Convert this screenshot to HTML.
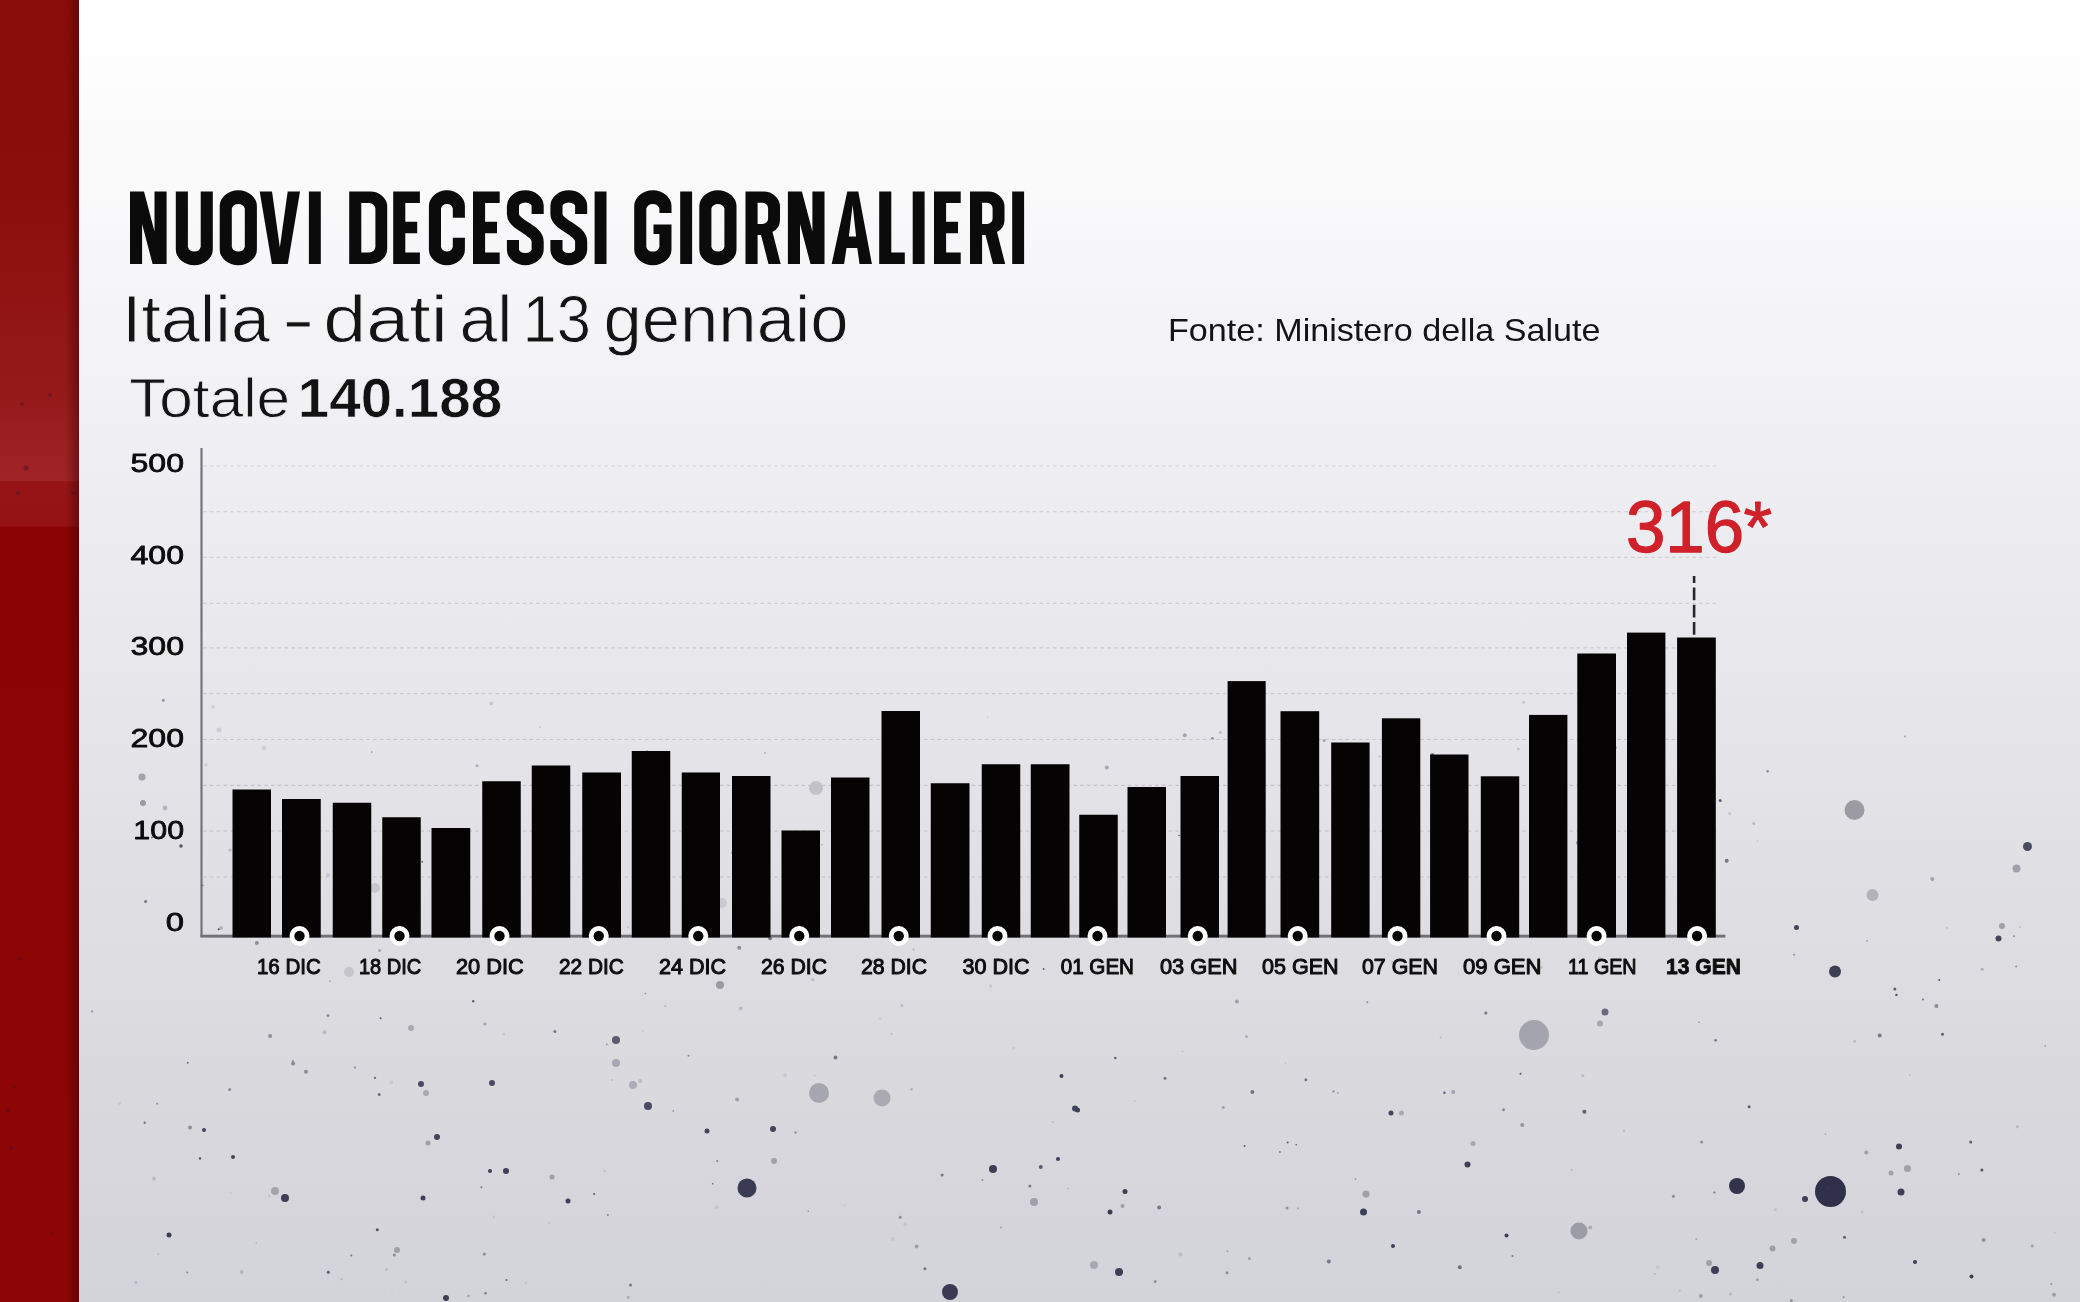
<!DOCTYPE html>
<html><head><meta charset="utf-8"><title>Nuovi decessi giornalieri</title>
<style>
html,body{margin:0;padding:0;background:#e6e6ea;}
body{width:2080px;height:1302px;overflow:hidden;font-family:"Liberation Sans",sans-serif;}
svg{display:block;position:absolute;left:0;top:0;}
text{font-family:"Liberation Sans",sans-serif;}
</style></head><body>
<svg width="2080" height="1302" viewBox="0 0 2080 1302">
<defs>
<linearGradient id="panel" x1="0" y1="0" x2="0" y2="1">
<stop offset="0" stop-color="#ffffff"/>
<stop offset="0.06" stop-color="#fdfdfd"/>
<stop offset="0.14" stop-color="#fafafb"/>
<stop offset="0.25" stop-color="#f4f4f7"/>
<stop offset="0.4" stop-color="#ededf1"/>
<stop offset="0.55" stop-color="#e6e6ea"/>
<stop offset="0.7" stop-color="#dfdfe3"/>
<stop offset="0.85" stop-color="#d8d8dd"/>
<stop offset="1" stop-color="#d3d3da"/>
</linearGradient>
<linearGradient id="strip" x1="0" y1="0" x2="0" y2="1">
<stop offset="0" stop-color="#8a0c0a"/>
<stop offset="0.15" stop-color="#8c0e0c"/>
<stop offset="0.3" stop-color="#96191a"/>
<stop offset="0.369" stop-color="#a02326"/>
<stop offset="0.37" stop-color="#961416"/>
<stop offset="0.404" stop-color="#951315"/>
<stop offset="0.405" stop-color="#8b0303"/>
<stop offset="1" stop-color="#8e0505"/>
</linearGradient>
<linearGradient id="stripsh" x1="0" y1="0" x2="1" y2="0">
<stop offset="0" stop-color="#3a0000" stop-opacity="0"/><stop offset="1" stop-color="#3a0000" stop-opacity="0.45"/>
</linearGradient>
<radialGradient id="vig" cx="0.45" cy="0.4" r="0.8">
<stop offset="0.6" stop-color="#000" stop-opacity="0"/><stop offset="1" stop-color="#000" stop-opacity="0.05"/>
</radialGradient>
<filter id="noaa" filterUnits="userSpaceOnUse" x="0" y="0" width="2080" height="1302"><feOffset dx="0" dy="0"/></filter>
</defs>
<rect x="0" y="0" width="2080" height="1302" fill="url(#panel)"/>
<rect x="0" y="0" width="79" height="1302" fill="url(#strip)"/>
<rect x="65" y="0" width="14" height="1302" fill="url(#stripsh)"/>
<g id="particles">
<circle cx="142" cy="777" r="3.6" fill="#a2a2aa"/>
<circle cx="143" cy="803" r="3" fill="#9a9aa4"/>
<circle cx="165" cy="808" r="2.4" fill="#b4b4bc"/>
<circle cx="181" cy="846" r="1.8" fill="#55556a"/>
<circle cx="213" cy="707" r="2" fill="#d0d0d6"/>
<circle cx="219" cy="730" r="2.4" fill="#cdcdd3"/>
<circle cx="264" cy="748" r="2.4" fill="#cfcfd5"/>
<circle cx="206" cy="765" r="1.8" fill="#d0d0d6"/>
<circle cx="230" cy="850" r="1.6" fill="#b8b8c0"/>
<circle cx="328" cy="875" r="2" fill="#c4c4cc"/>
<circle cx="221" cy="928" r="2" fill="#b4b4bc"/>
<circle cx="375" cy="888" r="5" fill="#c6c6cc"/>
<circle cx="816" cy="788" r="7" fill="#c2c2c8"/>
<circle cx="722" cy="903" r="5" fill="#cacad0"/>
<circle cx="349" cy="972" r="5" fill="#c4c4ca"/>
<circle cx="720" cy="985" r="4" fill="#9a9aa6"/>
<circle cx="616" cy="1040" r="4" fill="#5a5a70"/>
<circle cx="616" cy="1063" r="4" fill="#a8a8b2"/>
<circle cx="633" cy="1085" r="4" fill="#acacb4"/>
<circle cx="648" cy="1106" r="4" fill="#4a4a62"/>
<circle cx="492" cy="1083" r="3" fill="#4a4a62"/>
<circle cx="421" cy="1084" r="3" fill="#4a4a62"/>
<circle cx="426" cy="1093" r="3" fill="#a8a8b2"/>
<circle cx="411" cy="1028" r="3" fill="#a8a8b2"/>
<circle cx="819" cy="1093" r="10" fill="#a6a6b0"/>
<circle cx="882" cy="1098" r="8.5" fill="#aaaab2"/>
<circle cx="747" cy="1188" r="9.5" fill="#3a3a52"/>
<circle cx="773" cy="1129" r="3" fill="#44445a"/>
<circle cx="707" cy="1131" r="2.5" fill="#44445a"/>
<circle cx="437" cy="1137" r="3" fill="#44445a"/>
<circle cx="428" cy="1143" r="2.5" fill="#a0a0aa"/>
<circle cx="204" cy="1130" r="2" fill="#44445a"/>
<circle cx="233" cy="1157" r="2" fill="#44445a"/>
<circle cx="275" cy="1191" r="4" fill="#a4a4ae"/>
<circle cx="285" cy="1198" r="4" fill="#3e3e56"/>
<circle cx="506" cy="1171" r="3" fill="#3e3e56"/>
<circle cx="490" cy="1171" r="2" fill="#3e3e56"/>
<circle cx="552" cy="1177" r="2.5" fill="#a0a0aa"/>
<circle cx="568" cy="1201" r="2.5" fill="#3e3e56"/>
<circle cx="423" cy="1198" r="2.5" fill="#3e3e56"/>
<circle cx="169" cy="1235" r="2.5" fill="#3e3e56"/>
<circle cx="397" cy="1250" r="3" fill="#a0a0aa"/>
<circle cx="993" cy="1169" r="4" fill="#3e3e56"/>
<circle cx="950" cy="1292" r="8" fill="#3a3a52"/>
<circle cx="1034" cy="1202" r="4" fill="#a0a0aa"/>
<circle cx="774" cy="1161" r="3" fill="#a0a0aa"/>
<circle cx="446" cy="1298" r="3" fill="#3e3e56"/>
<circle cx="1854.5" cy="810" r="10" fill="#9b9ba4"/>
<circle cx="2027.5" cy="846.5" r="4.5" fill="#4a4a60"/>
<circle cx="2016.5" cy="868.5" r="4" fill="#a0a0aa"/>
<circle cx="1872.5" cy="895" r="6" fill="#b2b2b8"/>
<circle cx="2002" cy="926" r="3" fill="#a0a0aa"/>
<circle cx="1998.5" cy="938.5" r="3" fill="#44445a"/>
<circle cx="1835" cy="971.5" r="6" fill="#3e3e52"/>
<circle cx="1796.5" cy="927.5" r="2.5" fill="#44445a"/>
<circle cx="1605" cy="1012" r="3.5" fill="#6a6a7c"/>
<circle cx="1600" cy="1023.5" r="3" fill="#a8a8b0"/>
<circle cx="1534" cy="1035" r="15" fill="#a4a4ae"/>
<circle cx="1075" cy="1108.5" r="3" fill="#44445a"/>
<circle cx="1391" cy="1113" r="2.5" fill="#44445a"/>
<circle cx="1401.5" cy="1113" r="2.5" fill="#a8a8b0"/>
<circle cx="1467.5" cy="1164.5" r="3" fill="#3e3e56"/>
<circle cx="1473" cy="1143.5" r="2.5" fill="#a8a8b0"/>
<circle cx="1366" cy="1194" r="3.5" fill="#a0a0aa"/>
<circle cx="1363.5" cy="1212" r="3.5" fill="#3e3e56"/>
<circle cx="1737" cy="1186" r="8" fill="#33334a"/>
<circle cx="1830.5" cy="1191.5" r="15.5" fill="#30304a"/>
<circle cx="1579" cy="1231" r="8.5" fill="#9c9ca6"/>
<circle cx="1899" cy="1146.5" r="3" fill="#3e3e56"/>
<circle cx="1907.5" cy="1168.5" r="3.5" fill="#a0a0aa"/>
<circle cx="1901" cy="1192" r="3.5" fill="#3e3e56"/>
<circle cx="1891" cy="1173" r="2.5" fill="#a0a0aa"/>
<circle cx="1805" cy="1199" r="3" fill="#3e3e56"/>
<circle cx="1760" cy="1265.5" r="3.5" fill="#3e3e56"/>
<circle cx="1715" cy="1270" r="4" fill="#3e3e56"/>
<circle cx="1709" cy="1263" r="3" fill="#a0a0aa"/>
<circle cx="1772.5" cy="1248.5" r="3" fill="#a0a0aa"/>
<circle cx="1794" cy="1241" r="3" fill="#a0a0aa"/>
<circle cx="1094" cy="1265" r="4" fill="#a8a8b0"/>
<circle cx="1119" cy="1272" r="4" fill="#3e3e56"/>
<circle cx="1506.5" cy="1235.5" r="2" fill="#3e3e56"/>
<circle cx="1393" cy="1246" r="2" fill="#3e3e56"/>
<circle cx="1915" cy="1262" r="2" fill="#3e3e56"/>
<circle cx="1971.5" cy="1276.5" r="2" fill="#3e3e56"/>
<circle cx="1125" cy="1191.5" r="2.5" fill="#3e3e56"/>
<circle cx="1110" cy="1212" r="2.5" fill="#3e3e56"/>
<circle cx="1122.5" cy="1206" r="2" fill="#a0a0aa"/>
<circle cx="1061.5" cy="1076" r="2" fill="#3e3e56"/>
<circle cx="1077.5" cy="1110" r="2.5" fill="#3e3e56"/>
<circle cx="1058" cy="1159" r="2" fill="#3e3e56"/>
<circle cx="732.8" cy="852.8" r="1.5" fill="#50506a" opacity="0.5"/>
<circle cx="1720.2" cy="800.4" r="1.5" fill="#50506a" opacity="0.9"/>
<circle cx="516.2" cy="791.8" r="1.2" fill="#50506a" opacity="0.5"/>
<circle cx="270.1" cy="1035.9" r="2" fill="#44445c" opacity="0.5"/>
<circle cx="1970.7" cy="1142.0" r="1.5" fill="#50506a" opacity="0.9"/>
<circle cx="1252.3" cy="749.2" r="1" fill="#50506a" opacity="0.9"/>
<circle cx="1794.1" cy="954.7" r="1" fill="#44445c" opacity="0.5"/>
<circle cx="1223.3" cy="1107.6" r="1.5" fill="#6a6a7e" opacity="0.5"/>
<circle cx="1244.5" cy="1146.0" r="1" fill="#50506a" opacity="0.9"/>
<circle cx="1503.5" cy="1109.7" r="1.5" fill="#6a6a7e" opacity="0.7"/>
<circle cx="1440.6" cy="1037.6" r="1" fill="#b8b8c0" opacity="0.9"/>
<circle cx="1923.0" cy="999.6" r="1" fill="#6a6a7e" opacity="0.9"/>
<circle cx="1638.0" cy="787.5" r="1" fill="#44445c" opacity="0.7"/>
<circle cx="1827.1" cy="1187.8" r="1" fill="#44445c" opacity="0.5"/>
<circle cx="324.4" cy="1032.3" r="2" fill="#9a9aa6" opacity="0.5"/>
<circle cx="1942.5" cy="1034.3" r="1.5" fill="#50506a" opacity="0.9"/>
<circle cx="1227.5" cy="1251.2" r="1" fill="#9a9aa6" opacity="0.9"/>
<circle cx="785.1" cy="1075.0" r="2" fill="#b8b8c0" opacity="0.5"/>
<circle cx="1757.3" cy="1279.8" r="1.2" fill="#50506a" opacity="0.5"/>
<circle cx="1541.4" cy="967.6" r="1.5" fill="#b8b8c0" opacity="0.7"/>
<circle cx="1512.5" cy="1256.1" r="1" fill="#50506a" opacity="0.7"/>
<circle cx="795.6" cy="1132.5" r="1.2" fill="#50506a" opacity="0.5"/>
<circle cx="1614.9" cy="834.0" r="1" fill="#b8b8c0" opacity="0.7"/>
<circle cx="1909.9" cy="1074.9" r="1" fill="#b8b8c0" opacity="0.7"/>
<circle cx="1180.6" cy="1254.5" r="2" fill="#b8b8c0" opacity="0.9"/>
<circle cx="642.7" cy="1030.7" r="1" fill="#b8b8c0" opacity="0.5"/>
<circle cx="389.6" cy="873.6" r="1" fill="#6a6a7e" opacity="0.5"/>
<circle cx="1052.7" cy="1121.9" r="1" fill="#9a9aa6" opacity="0.5"/>
<circle cx="379.2" cy="1094.6" r="1.5" fill="#44445c" opacity="0.7"/>
<circle cx="1981.9" cy="1170.1" r="1.5" fill="#44445c" opacity="0.9"/>
<circle cx="1432.3" cy="754.9" r="2" fill="#44445c" opacity="0.7"/>
<circle cx="880.2" cy="1018.6" r="1.2" fill="#b8b8c0" opacity="0.5"/>
<circle cx="468.4" cy="1295.9" r="1.2" fill="#6a6a7e" opacity="0.5"/>
<circle cx="765.0" cy="753.1" r="0.8" fill="#44445c" opacity="0.5"/>
<circle cx="1155.2" cy="1281.5" r="1.5" fill="#50506a" opacity="0.5"/>
<circle cx="1825.5" cy="1134.1" r="1" fill="#9a9aa6" opacity="0.7"/>
<circle cx="1285.5" cy="1063.1" r="0.8" fill="#b8b8c0" opacity="0.7"/>
<circle cx="1043.6" cy="969.0" r="1" fill="#50506a" opacity="0.9"/>
<circle cx="770.1" cy="938.2" r="2" fill="#6a6a7e" opacity="0.9"/>
<circle cx="135.8" cy="1282.3" r="1.5" fill="#9a9aa6" opacity="0.5"/>
<circle cx="1459.8" cy="1267.3" r="2" fill="#44445c" opacity="0.7"/>
<circle cx="2032.3" cy="1246.1" r="1.5" fill="#9a9aa6" opacity="0.9"/>
<circle cx="817.9" cy="866.2" r="2" fill="#6a6a7e" opacity="0.9"/>
<circle cx="1165.0" cy="1078.2" r="1.5" fill="#6a6a7e" opacity="0.9"/>
<circle cx="1700.8" cy="1296.0" r="2" fill="#6a6a7e" opacity="0.5"/>
<circle cx="1714.4" cy="1192.5" r="1" fill="#6a6a7e" opacity="0.9"/>
<circle cx="1068.2" cy="1188.5" r="0.8" fill="#9a9aa6" opacity="0.7"/>
<circle cx="604.5" cy="1171.0" r="1" fill="#b8b8c0" opacity="0.9"/>
<circle cx="2051.3" cy="1284.0" r="1" fill="#50506a" opacity="0.5"/>
<circle cx="292.8" cy="1060.9" r="1" fill="#6a6a7e" opacity="0.7"/>
<circle cx="1328.8" cy="1261.6" r="2" fill="#50506a" opacity="0.7"/>
<circle cx="1894.8" cy="989.0" r="1.5" fill="#50506a" opacity="0.9"/>
<circle cx="328.0" cy="1015.4" r="1.5" fill="#6a6a7e" opacity="0.7"/>
<circle cx="1854.7" cy="1041.2" r="1.5" fill="#9a9aa6" opacity="0.5"/>
<circle cx="1679.6" cy="1290.7" r="1.2" fill="#b8b8c0" opacity="0.7"/>
<circle cx="1565.6" cy="790.8" r="1" fill="#6a6a7e" opacity="0.5"/>
<circle cx="144.7" cy="1122.8" r="1.2" fill="#6a6a7e" opacity="0.9"/>
<circle cx="1730.6" cy="1294.1" r="1.5" fill="#9a9aa6" opacity="0.5"/>
<circle cx="1179.1" cy="835.5" r="0.8" fill="#50506a" opacity="0.9"/>
<circle cx="1577.8" cy="842.8" r="2" fill="#6a6a7e" opacity="0.5"/>
<circle cx="145.6" cy="901.6" r="1.5" fill="#6a6a7e" opacity="0.9"/>
<circle cx="737.1" cy="1099.6" r="2" fill="#6a6a7e" opacity="0.5"/>
<circle cx="1896.4" cy="994.9" r="1.2" fill="#44445c" opacity="0.9"/>
<circle cx="924.9" cy="1268.8" r="1.5" fill="#6a6a7e" opacity="0.9"/>
<circle cx="391.4" cy="1082.3" r="2" fill="#b8b8c0" opacity="0.5"/>
<circle cx="1298.0" cy="1208.6" r="1" fill="#6a6a7e" opacity="0.5"/>
<circle cx="1029.9" cy="1185.9" r="1.5" fill="#50506a" opacity="0.7"/>
<circle cx="1444.4" cy="1092.7" r="1.2" fill="#50506a" opacity="0.9"/>
<circle cx="202.8" cy="885.4" r="0.8" fill="#50506a" opacity="0.9"/>
<circle cx="987.6" cy="717.3" r="0.8" fill="#b8b8c0" opacity="0.7"/>
<circle cx="1305.9" cy="1079.7" r="1.5" fill="#6a6a7e" opacity="0.9"/>
<circle cx="640.2" cy="1081.0" r="2" fill="#b8b8c0" opacity="0.9"/>
<circle cx="1958.9" cy="1174.1" r="1" fill="#44445c" opacity="0.5"/>
<circle cx="1757.4" cy="841.0" r="0.8" fill="#b8b8c0" opacity="0.7"/>
<circle cx="717.2" cy="1161.1" r="1.2" fill="#50506a" opacity="0.5"/>
<circle cx="1418.9" cy="1212.0" r="2" fill="#6a6a7e" opacity="0.9"/>
<circle cx="1367.3" cy="1002.3" r="1" fill="#6a6a7e" opacity="0.7"/>
<circle cx="525.9" cy="1283.0" r="1.2" fill="#b8b8c0" opacity="0.5"/>
<circle cx="2054.9" cy="1233.0" r="1" fill="#b8b8c0" opacity="0.9"/>
<circle cx="891.6" cy="1034.1" r="1" fill="#9a9aa6" opacity="0.5"/>
<circle cx="1523.5" cy="702.3" r="1.5" fill="#b8b8c0" opacity="0.7"/>
<circle cx="1485.8" cy="1013.0" r="1.5" fill="#44445c" opacity="0.7"/>
<circle cx="1106.8" cy="767.6" r="2" fill="#6a6a7e" opacity="0.5"/>
<circle cx="256.9" cy="943.1" r="2" fill="#6a6a7e" opacity="0.7"/>
<circle cx="1590.2" cy="1227.6" r="2" fill="#9a9aa6" opacity="0.7"/>
<circle cx="386.5" cy="1269.4" r="1.5" fill="#b8b8c0" opacity="0.9"/>
<circle cx="739.2" cy="947.8" r="2" fill="#6a6a7e" opacity="0.7"/>
<circle cx="1867.1" cy="941.0" r="0.8" fill="#50506a" opacity="0.7"/>
<circle cx="256.2" cy="1243.1" r="0.8" fill="#9a9aa6" opacity="0.5"/>
<circle cx="990.7" cy="986.0" r="1.5" fill="#b8b8c0" opacity="0.7"/>
<circle cx="1324.1" cy="740.5" r="1.5" fill="#6a6a7e" opacity="0.5"/>
<circle cx="2013.9" cy="936.3" r="1" fill="#6a6a7e" opacity="0.7"/>
<circle cx="1337.9" cy="1092.9" r="1" fill="#9a9aa6" opacity="0.7"/>
<circle cx="1082.7" cy="874.9" r="1" fill="#50506a" opacity="0.7"/>
<circle cx="163.3" cy="700.3" r="1.5" fill="#44445c" opacity="0.5"/>
<circle cx="1110.8" cy="925.2" r="1.2" fill="#50506a" opacity="0.9"/>
<circle cx="1715.6" cy="1040.2" r="1.2" fill="#44445c" opacity="0.7"/>
<circle cx="2016.1" cy="966.4" r="1" fill="#6a6a7e" opacity="0.7"/>
<circle cx="484.3" cy="1253.9" r="1.5" fill="#6a6a7e" opacity="0.7"/>
<circle cx="2054.0" cy="1294.8" r="2" fill="#6a6a7e" opacity="0.5"/>
<circle cx="230.4" cy="1193.0" r="1" fill="#b8b8c0" opacity="0.5"/>
<circle cx="200.0" cy="1158.4" r="1.2" fill="#44445c" opacity="0.9"/>
<circle cx="2017.3" cy="1126.7" r="1.5" fill="#9a9aa6" opacity="0.5"/>
<circle cx="1002.0" cy="858.4" r="1.2" fill="#50506a" opacity="0.7"/>
<circle cx="812.8" cy="979.7" r="1.5" fill="#9a9aa6" opacity="0.5"/>
<circle cx="158.4" cy="1254.1" r="1" fill="#9a9aa6" opacity="0.5"/>
<circle cx="92.1" cy="1011.4" r="1.2" fill="#9a9aa6" opacity="0.9"/>
<circle cx="1392.2" cy="926.9" r="2" fill="#50506a" opacity="0.5"/>
<circle cx="614.4" cy="795.8" r="1.2" fill="#44445c" opacity="0.5"/>
<circle cx="872.0" cy="961.2" r="1.5" fill="#6a6a7e" opacity="0.5"/>
<circle cx="1252.4" cy="1091.9" r="2" fill="#6a6a7e" opacity="0.9"/>
<circle cx="1862.2" cy="1212.1" r="1.5" fill="#b8b8c0" opacity="0.7"/>
<circle cx="1520.5" cy="1073.7" r="1" fill="#44445c" opacity="0.9"/>
<circle cx="377.3" cy="1229.8" r="1.5" fill="#44445c" opacity="0.9"/>
<circle cx="942.1" cy="1174.9" r="1.5" fill="#6a6a7e" opacity="0.9"/>
<circle cx="1584.4" cy="1111.7" r="2" fill="#50506a" opacity="0.9"/>
<circle cx="1249.4" cy="1258.5" r="1.5" fill="#6a6a7e" opacity="0.5"/>
<circle cx="151.9" cy="837.4" r="1" fill="#50506a" opacity="0.7"/>
<circle cx="1749.1" cy="1106.8" r="1.5" fill="#50506a" opacity="0.9"/>
<circle cx="1144.9" cy="924.4" r="1" fill="#50506a" opacity="0.7"/>
<circle cx="1673.4" cy="1196.3" r="1.5" fill="#44445c" opacity="0.5"/>
<circle cx="1398.7" cy="769.7" r="1.5" fill="#b8b8c0" opacity="0.7"/>
<circle cx="1696.3" cy="1238.9" r="1" fill="#6a6a7e" opacity="0.5"/>
<circle cx="1558.6" cy="1292.3" r="1.2" fill="#b8b8c0" opacity="0.5"/>
<circle cx="1040.8" cy="1167.0" r="2" fill="#50506a" opacity="0.9"/>
<circle cx="1346.1" cy="890.7" r="1.5" fill="#6a6a7e" opacity="0.7"/>
<circle cx="594.1" cy="1194.0" r="1" fill="#44445c" opacity="0.9"/>
<circle cx="354.9" cy="1067.5" r="1.2" fill="#9a9aa6" opacity="0.9"/>
<circle cx="287.5" cy="905.2" r="1.2" fill="#9a9aa6" opacity="0.9"/>
<circle cx="1115.3" cy="1058.0" r="1.2" fill="#50506a" opacity="0.9"/>
<circle cx="485.5" cy="1293.3" r="1.2" fill="#50506a" opacity="0.7"/>
<circle cx="1001.1" cy="1227.6" r="1.2" fill="#9a9aa6" opacity="0.7"/>
<circle cx="506.5" cy="1280.1" r="1" fill="#50506a" opacity="0.9"/>
<circle cx="269.3" cy="1195.9" r="1" fill="#9a9aa6" opacity="0.5"/>
<circle cx="1287.7" cy="1142.5" r="1" fill="#50506a" opacity="0.9"/>
<circle cx="814.9" cy="1075.6" r="1.2" fill="#b8b8c0" opacity="0.5"/>
<circle cx="405.7" cy="1281.9" r="1.5" fill="#b8b8c0" opacity="0.7"/>
<circle cx="689.4" cy="844.1" r="1" fill="#b8b8c0" opacity="0.7"/>
<circle cx="330.0" cy="981.2" r="1" fill="#9a9aa6" opacity="0.7"/>
<circle cx="328.3" cy="1272.3" r="1.5" fill="#50506a" opacity="0.9"/>
<circle cx="665.3" cy="1005.9" r="1.2" fill="#b8b8c0" opacity="0.9"/>
<circle cx="241.7" cy="1271.9" r="2" fill="#9a9aa6" opacity="0.5"/>
<circle cx="647.1" cy="751.8" r="1.5" fill="#9a9aa6" opacity="0.9"/>
<circle cx="1947.1" cy="927.7" r="1" fill="#b8b8c0" opacity="0.9"/>
<circle cx="716.5" cy="1207.3" r="2" fill="#b8b8c0" opacity="0.5"/>
<circle cx="1701.7" cy="1142.1" r="1.5" fill="#44445c" opacity="0.5"/>
<circle cx="1518.4" cy="749.0" r="1.5" fill="#b8b8c0" opacity="0.7"/>
<circle cx="1310.6" cy="842.2" r="2" fill="#9a9aa6" opacity="0.7"/>
<circle cx="187.2" cy="1272.5" r="1" fill="#6a6a7e" opacity="0.7"/>
<circle cx="913.5" cy="949.6" r="1" fill="#9a9aa6" opacity="0.7"/>
<circle cx="1392.2" cy="962.0" r="1.5" fill="#b8b8c0" opacity="0.5"/>
<circle cx="422.2" cy="861.8" r="1" fill="#44445c" opacity="0.7"/>
<circle cx="1182.5" cy="1051.6" r="1" fill="#b8b8c0" opacity="0.7"/>
<circle cx="367.1" cy="886.3" r="0.8" fill="#6a6a7e" opacity="0.7"/>
<circle cx="1193.4" cy="973.7" r="1" fill="#9a9aa6" opacity="0.9"/>
<circle cx="491.3" cy="703.5" r="2" fill="#b8b8c0" opacity="0.7"/>
<circle cx="911.6" cy="1089.3" r="1.2" fill="#9a9aa6" opacity="0.7"/>
<circle cx="1582.9" cy="1075.8" r="1.5" fill="#9a9aa6" opacity="0.5"/>
<circle cx="1453.2" cy="1091.9" r="2" fill="#6a6a7e" opacity="0.5"/>
<circle cx="628.0" cy="927.1" r="1.2" fill="#b8b8c0" opacity="0.7"/>
<circle cx="1983.6" cy="1239.9" r="2" fill="#50506a" opacity="0.5"/>
<circle cx="154.0" cy="1178.8" r="2" fill="#b8b8c0" opacity="0.9"/>
<circle cx="1062.3" cy="777.8" r="2" fill="#44445c" opacity="0.7"/>
<circle cx="2019.9" cy="927.1" r="0.8" fill="#6a6a7e" opacity="0.5"/>
<circle cx="391.9" cy="1290.8" r="0.8" fill="#b8b8c0" opacity="0.5"/>
<circle cx="1184.7" cy="735.3" r="2" fill="#6a6a7e" opacity="0.5"/>
<circle cx="1220.2" cy="732.5" r="1.5" fill="#9a9aa6" opacity="0.5"/>
<circle cx="1333.5" cy="1091.4" r="1.2" fill="#50506a" opacity="0.5"/>
<circle cx="229.6" cy="1089.4" r="1.5" fill="#6a6a7e" opacity="0.7"/>
<circle cx="607.9" cy="1214.9" r="0.8" fill="#50506a" opacity="0.9"/>
<circle cx="688.5" cy="1055.8" r="1" fill="#6a6a7e" opacity="0.7"/>
<circle cx="1134.7" cy="1100.9" r="0.8" fill="#b8b8c0" opacity="0.9"/>
<circle cx="1379.6" cy="756.6" r="1" fill="#b8b8c0" opacity="0.9"/>
<circle cx="1374.6" cy="786.6" r="1" fill="#b8b8c0" opacity="0.7"/>
<circle cx="540.2" cy="727.2" r="1" fill="#b8b8c0" opacity="0.7"/>
<circle cx="1444.9" cy="890.6" r="2" fill="#9a9aa6" opacity="0.9"/>
<circle cx="1767.6" cy="771.3" r="1.2" fill="#6a6a7e" opacity="0.7"/>
<circle cx="1610.2" cy="887.4" r="1.2" fill="#6a6a7e" opacity="0.7"/>
<circle cx="1599.5" cy="958.2" r="1.5" fill="#b8b8c0" opacity="0.9"/>
<circle cx="461.8" cy="909.3" r="1.2" fill="#50506a" opacity="0.9"/>
<circle cx="380.6" cy="1018.3" r="1" fill="#50506a" opacity="0.9"/>
<circle cx="371.7" cy="752.1" r="0.8" fill="#6a6a7e" opacity="0.7"/>
<circle cx="982.5" cy="1180.0" r="1" fill="#50506a" opacity="0.5"/>
<circle cx="1939.2" cy="979.9" r="1" fill="#44445c" opacity="0.9"/>
<circle cx="1018.2" cy="969.0" r="1.5" fill="#b8b8c0" opacity="0.7"/>
<circle cx="2045.2" cy="1045.9" r="0.8" fill="#50506a" opacity="0.5"/>
<circle cx="645.4" cy="993.5" r="0.8" fill="#44445c" opacity="0.5"/>
<circle cx="844.6" cy="1205.4" r="1" fill="#b8b8c0" opacity="0.5"/>
<circle cx="187.8" cy="1062.7" r="1" fill="#44445c" opacity="0.7"/>
<circle cx="473.2" cy="1001.2" r="1.2" fill="#50506a" opacity="0.9"/>
<circle cx="905.4" cy="1224.2" r="2" fill="#b8b8c0" opacity="0.5"/>
<circle cx="835.5" cy="1057.6" r="2" fill="#50506a" opacity="0.7"/>
<circle cx="477.0" cy="765.8" r="1.5" fill="#9a9aa6" opacity="0.7"/>
<circle cx="630.5" cy="1285.0" r="1.5" fill="#50506a" opacity="0.7"/>
<circle cx="1571.7" cy="1169.7" r="1" fill="#9a9aa6" opacity="0.5"/>
<circle cx="1522.3" cy="1125.1" r="2" fill="#50506a" opacity="0.5"/>
<circle cx="1729.6" cy="813.4" r="1.5" fill="#b8b8c0" opacity="0.7"/>
<circle cx="1657.8" cy="1267.0" r="2" fill="#b8b8c0" opacity="0.5"/>
<circle cx="1932.3" cy="878.9" r="2" fill="#9a9aa6" opacity="0.9"/>
<circle cx="1624.0" cy="1130.8" r="1" fill="#9a9aa6" opacity="0.7"/>
<circle cx="808.3" cy="1211.3" r="0.8" fill="#44445c" opacity="0.5"/>
<circle cx="867.5" cy="860.4" r="1.2" fill="#50506a" opacity="0.9"/>
<circle cx="157.2" cy="1103.8" r="1" fill="#6a6a7e" opacity="0.7"/>
<circle cx="1843.7" cy="1297.2" r="1" fill="#44445c" opacity="0.5"/>
<circle cx="503.6" cy="1034.0" r="1.5" fill="#b8b8c0" opacity="0.5"/>
<circle cx="554.9" cy="1031.6" r="1.5" fill="#6a6a7e" opacity="0.9"/>
<circle cx="1159.1" cy="1207.6" r="2" fill="#50506a" opacity="0.7"/>
<circle cx="673.2" cy="1110.9" r="1" fill="#9a9aa6" opacity="0.9"/>
<circle cx="606.8" cy="1044.2" r="1" fill="#6a6a7e" opacity="0.5"/>
<circle cx="394.3" cy="1254.9" r="1.5" fill="#6a6a7e" opacity="0.7"/>
<circle cx="218.6" cy="929.3" r="1" fill="#44445c" opacity="0.9"/>
<circle cx="549.3" cy="1222.7" r="1.5" fill="#b8b8c0" opacity="0.5"/>
<circle cx="293.1" cy="1063.4" r="2" fill="#6a6a7e" opacity="0.7"/>
<circle cx="1905.0" cy="736.5" r="1" fill="#6a6a7e" opacity="0.5"/>
<circle cx="190.0" cy="1127.5" r="2" fill="#44445c" opacity="0.5"/>
<circle cx="1936.4" cy="1005.9" r="2" fill="#6a6a7e" opacity="0.7"/>
<circle cx="1287.0" cy="1208.1" r="1.5" fill="#50506a" opacity="0.5"/>
<circle cx="1355.4" cy="1178.9" r="1" fill="#6a6a7e" opacity="0.5"/>
<circle cx="821.9" cy="844.7" r="1" fill="#9a9aa6" opacity="0.5"/>
<circle cx="1279.9" cy="1152.0" r="1" fill="#50506a" opacity="0.7"/>
<circle cx="901.9" cy="1005.6" r="1.5" fill="#9a9aa6" opacity="0.5"/>
<circle cx="493.8" cy="1217.0" r="1.5" fill="#b8b8c0" opacity="0.5"/>
<circle cx="900.2" cy="1217.2" r="1.5" fill="#44445c" opacity="0.5"/>
<circle cx="1358.8" cy="797.3" r="1" fill="#b8b8c0" opacity="0.9"/>
<circle cx="628.3" cy="1297.3" r="1.5" fill="#9a9aa6" opacity="0.7"/>
<circle cx="1982.1" cy="969.3" r="1.5" fill="#9a9aa6" opacity="0.7"/>
<circle cx="916.6" cy="1246.5" r="2" fill="#9a9aa6" opacity="0.9"/>
<circle cx="481.4" cy="1187.2" r="1" fill="#50506a" opacity="0.7"/>
<circle cx="1879.7" cy="1035.5" r="2" fill="#50506a" opacity="0.7"/>
<circle cx="1236.9" cy="1001.4" r="2" fill="#6a6a7e" opacity="0.5"/>
<circle cx="119.4" cy="1103.2" r="1.5" fill="#b8b8c0" opacity="0.5"/>
<circle cx="1227.1" cy="1272.7" r="1.5" fill="#44445c" opacity="0.5"/>
<circle cx="379.6" cy="950.6" r="1.5" fill="#6a6a7e" opacity="0.5"/>
<circle cx="306.0" cy="1071.8" r="2" fill="#6a6a7e" opacity="0.7"/>
<circle cx="341.4" cy="1279.1" r="1.2" fill="#9a9aa6" opacity="0.5"/>
<circle cx="1296.2" cy="1144.8" r="0.8" fill="#44445c" opacity="0.9"/>
<circle cx="1726.7" cy="860.7" r="2" fill="#6a6a7e" opacity="0.9"/>
<circle cx="892.9" cy="1238.9" r="2" fill="#b8b8c0" opacity="0.5"/>
<circle cx="1212.4" cy="738.4" r="1.5" fill="#6a6a7e" opacity="0.7"/>
<circle cx="803.0" cy="851.6" r="1.5" fill="#6a6a7e" opacity="0.5"/>
<circle cx="1844.5" cy="1237.3" r="1.5" fill="#50506a" opacity="0.9"/>
<circle cx="1753.8" cy="823.4" r="1.5" fill="#b8b8c0" opacity="0.9"/>
<circle cx="1775.3" cy="1209.5" r="1.5" fill="#b8b8c0" opacity="0.7"/>
<circle cx="1246.5" cy="1036.6" r="1.5" fill="#9a9aa6" opacity="0.7"/>
<circle cx="1089.6" cy="875.6" r="0.8" fill="#44445c" opacity="0.7"/>
<circle cx="1013.6" cy="1048.3" r="1.5" fill="#b8b8c0" opacity="0.5"/>
<circle cx="1698.9" cy="1022.2" r="0.8" fill="#6a6a7e" opacity="0.7"/>
<circle cx="944.7" cy="797.9" r="1.2" fill="#44445c" opacity="0.9"/>
<circle cx="1394.3" cy="736.9" r="1" fill="#50506a" opacity="0.9"/>
<circle cx="712.7" cy="1183.8" r="0.8" fill="#50506a" opacity="0.9"/>
<circle cx="1866.3" cy="1152.5" r="2" fill="#6a6a7e" opacity="0.5"/>
<circle cx="1791.3" cy="1300.5" r="1.5" fill="#50506a" opacity="0.5"/>
<circle cx="351.3" cy="1255.5" r="1" fill="#6a6a7e" opacity="0.9"/>
<circle cx="1654.9" cy="1274.0" r="0.8" fill="#9a9aa6" opacity="0.9"/>
<circle cx="1591.0" cy="859.4" r="1.5" fill="#9a9aa6" opacity="0.7"/>
<circle cx="375.0" cy="1077.9" r="1.2" fill="#6a6a7e" opacity="0.9"/>
<circle cx="611.8" cy="1079.9" r="1" fill="#9a9aa6" opacity="0.5"/>
<circle cx="484.9" cy="1024.0" r="1.5" fill="#9a9aa6" opacity="0.9"/>
<circle cx="740.7" cy="1008.6" r="2" fill="#9a9aa6" opacity="0.5"/>
<circle cx="1615.0" cy="747.8" r="2" fill="#9a9aa6" opacity="0.7"/>
</g>
<circle cx="50" cy="395" r="2" fill="#4a1030" opacity="0.45"/>
<circle cx="22" cy="404" r="2" fill="#4a1030" opacity="0.45"/>
<circle cx="26" cy="468" r="2.5" fill="#4a1030" opacity="0.45"/>
<circle cx="18" cy="493" r="2" fill="#4a1030" opacity="0.45"/>
<circle cx="73" cy="493" r="2" fill="#4a1030" opacity="0.45"/>
<circle cx="14" cy="1087" r="1.5" fill="#4a1030" opacity="0.45"/>
<circle cx="32" cy="1096" r="1.5" fill="#4a1030" opacity="0.45"/>
<circle cx="20" cy="959" r="2" fill="#4a1030" opacity="0.45"/>
<circle cx="75" cy="939" r="1.5" fill="#4a1030" opacity="0.45"/>
<circle cx="11" cy="1148" r="2" fill="#4a1030" opacity="0.45"/>
<circle cx="52" cy="1234" r="1.5" fill="#4a1030" opacity="0.45"/>
<circle cx="8" cy="1111" r="2" fill="#4a1030" opacity="0.45"/>
<g stroke-width="1.2" stroke-dasharray="3.6 3.2" fill="none">
<line x1="203" y1="466.0" x2="1719" y2="466.0" stroke="#d2d2d7"/>
<line x1="203" y1="511.7" x2="1719" y2="511.7" stroke="#d2d2d7"/>
<line x1="203" y1="557.4" x2="1719" y2="557.4" stroke="#d0d0d5"/>
<line x1="203" y1="603.4" x2="1719" y2="603.4" stroke="#cecfd3"/>
<line x1="203" y1="647.8" x2="1719" y2="647.8" stroke="#cbcbd0"/>
<line x1="203" y1="693.7" x2="1719" y2="693.7" stroke="#c8c8cd"/>
<line x1="203" y1="739.5" x2="1719" y2="739.5" stroke="#c5c5ca"/>
<line x1="203" y1="785.3" x2="1719" y2="785.3" stroke="#c2c2c8"/>
<line x1="203" y1="831.0" x2="1719" y2="831.0" stroke="#c0c0c6"/>
<line x1="203" y1="877.0" x2="1719" y2="877.0" stroke="#bfbfc5"/>
</g>
<rect x="200.4" y="448" width="2.2" height="489" fill="#75757c"/>
<rect x="200.4" y="934.7" width="1525" height="2.9" fill="#707076"/>
<g fill="#050303">
<rect x="232.5" y="789.5" width="38.50" height="148.00"/>
<rect x="282" y="799" width="38.75" height="138.50"/>
<rect x="332.75" y="802.75" width="38.50" height="134.75"/>
<rect x="382.25" y="817.25" width="38.50" height="120.25"/>
<rect x="431.5" y="828" width="38.75" height="109.50"/>
<rect x="482.25" y="781.25" width="38.50" height="156.25"/>
<rect x="531.75" y="765.5" width="38.50" height="172.00"/>
<rect x="582.25" y="772.5" width="38.75" height="165.00"/>
<rect x="631.75" y="751" width="38.50" height="186.50"/>
<rect x="681.75" y="772.5" width="38.25" height="165.00"/>
<rect x="732" y="776" width="38.50" height="161.50"/>
<rect x="781.5" y="830.5" width="38.50" height="107.00"/>
<rect x="831" y="777.5" width="38.50" height="160.00"/>
<rect x="881.5" y="711" width="38.50" height="226.50"/>
<rect x="930.75" y="783.25" width="38.75" height="154.25"/>
<rect x="981.75" y="764.25" width="38.50" height="173.25"/>
<rect x="1030.75" y="764.25" width="38.75" height="173.25"/>
<rect x="1079.25" y="814.75" width="38.50" height="122.75"/>
<rect x="1127.5" y="787" width="38.50" height="150.50"/>
<rect x="1180.5" y="776" width="38.50" height="161.50"/>
<rect x="1227.6" y="681.1" width="38.10" height="256.40"/>
<rect x="1280.5" y="711.2" width="38.70" height="226.30"/>
<rect x="1331.2" y="742.5" width="38.40" height="195.00"/>
<rect x="1381.9" y="718.3" width="38.40" height="219.20"/>
<rect x="1430.1" y="754.5" width="38.40" height="183.00"/>
<rect x="1480.8" y="776.3" width="38.40" height="161.20"/>
<rect x="1529" y="714.9" width="38.40" height="222.60"/>
<rect x="1577.3" y="653.5" width="38.70" height="284.00"/>
<rect x="1627" y="632.6" width="38.40" height="304.90"/>
<rect x="1677.1" y="637.5" width="38.70" height="300.00"/>
</g>
<line x1="1694.1" y1="576" x2="1694.1" y2="634.8" stroke="#26262c" stroke-width="2.6" stroke-dasharray="12.8 4.5" stroke-dashoffset="5.8"/>
<circle cx="299.5" cy="936" r="7.6" fill="#050303" stroke="#ffffff" stroke-width="4.8"/>
<circle cx="399.5" cy="936" r="7.6" fill="#050303" stroke="#ffffff" stroke-width="4.8"/>
<circle cx="499.5" cy="936" r="7.6" fill="#050303" stroke="#ffffff" stroke-width="4.8"/>
<circle cx="598.75" cy="936" r="7.6" fill="#050303" stroke="#ffffff" stroke-width="4.8"/>
<circle cx="698.25" cy="936" r="7.6" fill="#050303" stroke="#ffffff" stroke-width="4.8"/>
<circle cx="799.25" cy="936" r="7.6" fill="#050303" stroke="#ffffff" stroke-width="4.8"/>
<circle cx="898.75" cy="936" r="7.6" fill="#050303" stroke="#ffffff" stroke-width="4.8"/>
<circle cx="997.5" cy="936" r="7.6" fill="#050303" stroke="#ffffff" stroke-width="4.8"/>
<circle cx="1097.5" cy="936" r="7.6" fill="#050303" stroke="#ffffff" stroke-width="4.8"/>
<circle cx="1197.75" cy="936" r="7.6" fill="#050303" stroke="#ffffff" stroke-width="4.8"/>
<circle cx="1297.7" cy="936" r="7.6" fill="#050303" stroke="#ffffff" stroke-width="4.8"/>
<circle cx="1397.5" cy="936" r="7.6" fill="#050303" stroke="#ffffff" stroke-width="4.8"/>
<circle cx="1496.5" cy="936" r="7.6" fill="#050303" stroke="#ffffff" stroke-width="4.8"/>
<circle cx="1596.6" cy="936" r="7.6" fill="#050303" stroke="#ffffff" stroke-width="4.8"/>
<circle cx="1697.1" cy="936" r="7.6" fill="#050303" stroke="#ffffff" stroke-width="4.8"/>
<g filter="url(#noaa)">
<text x="256.98" y="973.9" font-size="21.5" font-weight="normal" fill="#0e0e0e" textLength="63.78" lengthAdjust="spacingAndGlyphs" stroke="#0e0e0e" stroke-width="1.0" stroke-linejoin="round">16 DIC</text>
<text x="358.98" y="973.9" font-size="21.5" font-weight="normal" fill="#0e0e0e" textLength="62.28" lengthAdjust="spacingAndGlyphs" stroke="#0e0e0e" stroke-width="1.0" stroke-linejoin="round">18 DIC</text>
<text x="455.98" y="973.9" font-size="21.5" font-weight="normal" fill="#0e0e0e" textLength="67.78" lengthAdjust="spacingAndGlyphs" stroke="#0e0e0e" stroke-width="1.0" stroke-linejoin="round">20 DIC</text>
<text x="558.98" y="973.9" font-size="21.5" font-weight="normal" fill="#0e0e0e" textLength="64.78" lengthAdjust="spacingAndGlyphs" stroke="#0e0e0e" stroke-width="1.0" stroke-linejoin="round">22 DIC</text>
<text x="658.98" y="973.9" font-size="21.5" font-weight="normal" fill="#0e0e0e" textLength="67.02" lengthAdjust="spacingAndGlyphs" stroke="#0e0e0e" stroke-width="1.0" stroke-linejoin="round">24 DIC</text>
<text x="760.98" y="973.9" font-size="21.5" font-weight="normal" fill="#0e0e0e" textLength="66.02" lengthAdjust="spacingAndGlyphs" stroke="#0e0e0e" stroke-width="1.0" stroke-linejoin="round">26 DIC</text>
<text x="860.98" y="973.9" font-size="21.5" font-weight="normal" fill="#0e0e0e" textLength="66.02" lengthAdjust="spacingAndGlyphs" stroke="#0e0e0e" stroke-width="1.0" stroke-linejoin="round">28 DIC</text>
<text x="962.49" y="973.9" font-size="21.5" font-weight="normal" fill="#0e0e0e" textLength="67.03" lengthAdjust="spacingAndGlyphs" stroke="#0e0e0e" stroke-width="1.0" stroke-linejoin="round">30 DIC</text>
<text x="1060.74" y="973.9" font-size="21.5" font-weight="normal" fill="#0e0e0e" textLength="73.27" lengthAdjust="spacingAndGlyphs" stroke="#0e0e0e" stroke-width="1.0" stroke-linejoin="round">01 GEN</text>
<text x="1160.00" y="973.9" font-size="21.5" font-weight="normal" fill="#0e0e0e" textLength="77.53" lengthAdjust="spacingAndGlyphs" stroke="#0e0e0e" stroke-width="1.0" stroke-linejoin="round">03 GEN</text>
<text x="1261.99" y="973.9" font-size="21.5" font-weight="normal" fill="#0e0e0e" textLength="76.54" lengthAdjust="spacingAndGlyphs" stroke="#0e0e0e" stroke-width="1.0" stroke-linejoin="round">05 GEN</text>
<text x="1361.99" y="973.9" font-size="21.5" font-weight="normal" fill="#0e0e0e" textLength="76.04" lengthAdjust="spacingAndGlyphs" stroke="#0e0e0e" stroke-width="1.0" stroke-linejoin="round">07 GEN</text>
<text x="1462.98" y="973.9" font-size="21.5" font-weight="normal" fill="#0e0e0e" textLength="78.55" lengthAdjust="spacingAndGlyphs" stroke="#0e0e0e" stroke-width="1.0" stroke-linejoin="round">09 GEN</text>
<text x="1567.97" y="973.9" font-size="21.5" font-weight="normal" fill="#0e0e0e" textLength="68.58" lengthAdjust="spacingAndGlyphs" stroke="#0e0e0e" stroke-width="1.0" stroke-linejoin="round">11 GEN</text>
<text x="1665.99" y="973.9" font-size="21.5" font-weight="bold" fill="#0e0e0e" textLength="75.04" lengthAdjust="spacingAndGlyphs" stroke="#0e0e0e" stroke-width="0.8" stroke-linejoin="round">13 GEN</text>
<text x="130.47" y="472.1" font-size="26.4" font-weight="normal" fill="#0c0c0c" textLength="53.56" lengthAdjust="spacingAndGlyphs" stroke="#0c0c0c" stroke-width="0.8" stroke-linejoin="round">500</text>
<text x="130.50" y="563.7" font-size="26.4" font-weight="normal" fill="#0c0c0c" textLength="53.52" lengthAdjust="spacingAndGlyphs" stroke="#0c0c0c" stroke-width="0.8" stroke-linejoin="round">400</text>
<text x="130.47" y="655.4" font-size="26.4" font-weight="normal" fill="#0c0c0c" textLength="53.57" lengthAdjust="spacingAndGlyphs" stroke="#0c0c0c" stroke-width="0.8" stroke-linejoin="round">300</text>
<text x="130.43" y="747.2" font-size="26.4" font-weight="normal" fill="#0c0c0c" textLength="53.61" lengthAdjust="spacingAndGlyphs" stroke="#0c0c0c" stroke-width="0.8" stroke-linejoin="round">200</text>
<text x="133.39" y="839" font-size="26.4" font-weight="normal" fill="#0c0c0c" textLength="50.68" lengthAdjust="spacingAndGlyphs" stroke="#0c0c0c" stroke-width="0.8" stroke-linejoin="round">100</text>
<text x="165.86" y="930.8" font-size="26.4" font-weight="normal" fill="#0c0c0c" textLength="18.29" lengthAdjust="spacingAndGlyphs" stroke="#0c0c0c" stroke-width="0.8" stroke-linejoin="round">0</text>
<text x="122.10" y="342.2" font-size="66" font-weight="normal" fill="#141414" textLength="147.70" lengthAdjust="spacingAndGlyphs" stroke="#f4f4f7" stroke-width="0.9" stroke-linejoin="round">Italia</text>
<text x="281.86" y="342.2" font-size="66" font-weight="normal" fill="#141414" textLength="33.03" lengthAdjust="spacingAndGlyphs" stroke="#f4f4f7" stroke-width="0.9" stroke-linejoin="round">-</text>
<text x="323.20" y="342.2" font-size="66" font-weight="normal" fill="#141414" textLength="124.76" lengthAdjust="spacingAndGlyphs" stroke="#f4f4f7" stroke-width="0.9" stroke-linejoin="round">dati</text>
<text x="459.41" y="342.2" font-size="66" font-weight="normal" fill="#141414" textLength="52.95" lengthAdjust="spacingAndGlyphs" stroke="#f4f4f7" stroke-width="0.9" stroke-linejoin="round">al</text>
<text x="522.43" y="342.2" font-size="66" font-weight="normal" fill="#141414" textLength="68.50" lengthAdjust="spacingAndGlyphs" stroke="#f4f4f7" stroke-width="0.9" stroke-linejoin="round">13</text>
<text x="603.41" y="342.2" font-size="66" font-weight="normal" fill="#141414" textLength="245.19" lengthAdjust="spacingAndGlyphs" stroke="#f4f4f7" stroke-width="0.9" stroke-linejoin="round">gennaio</text>
<text x="129.18" y="417.2" font-size="55" font-weight="normal" fill="#141414" textLength="160.94" lengthAdjust="spacingAndGlyphs" stroke="#f0f0f4" stroke-width="0.8" stroke-linejoin="round">Totale</text>
<text x="297.88" y="417.4" font-size="56" font-weight="bold" fill="#121212" textLength="204.19" lengthAdjust="spacingAndGlyphs" stroke="#f0f0f4" stroke-width="0.7" stroke-linejoin="round">140.188</text>
<text x="1167.97" y="341.2" font-size="31.3" font-weight="normal" fill="#141414" textLength="432.55" lengthAdjust="spacingAndGlyphs">Fonte: Ministero della Salute</text>
<text x="1625.90" y="552.4" font-size="73" font-weight="normal" fill="#d0212b" textLength="118.20" lengthAdjust="spacingAndGlyphs" stroke="#d0212b" stroke-width="1.3" stroke-linejoin="round">316</text>
<text x="1743.44" y="552.4" font-size="73" font-weight="normal" fill="#d0212b" textLength="28.64" lengthAdjust="spacingAndGlyphs" stroke="#d0212b" stroke-width="1.0" stroke-linejoin="round">*</text>
</g>
<g id="title" fill="#0b0b0b">
<g transform="translate(130,191.5)"><path d="M0,0H14L24.50,40.00V0H36.60V72.5H22.60L12.10,32.50V72.5H0Z"/></g>
<g transform="translate(175.8,191.5)"><path d="M0,0H12.1 V55.40 A6.65,6.2 0 0 0 24.90,55.40 V0 H37 V57.90 A18.5,15.8 0 0 1 0,57.90 Z"/></g>
<g transform="translate(219.7,191.5)"><path fill-rule="evenodd" d="M0,14.60 A18.6,15.8 0 0 1 37.2,14.60 V57.90 A18.6,15.8 0 0 1 0,57.90 Z M12.1,17.10 V55.40 A6.75,6.2 0 0 0 25.10,55.40 V17.10 A6.75,6.2 0 0 0 12.1,17.10 Z"/></g>
<g transform="translate(259.7,191.5)"><path d="M0,0H12.3L20.15,56L28,0H40.3L28.1,72.5H12.2Z"/></g>
<g transform="translate(308.9,191.5)"><rect x="0" y="0" width="11.9" height="72.5"/></g>
<g transform="translate(349.2,191.5)"><path fill-rule="evenodd" d="M0,0H21A17,15 0 0 1 38,15V57.5A17,15 0 0 1 21,72.5H0Z M12.1,11.5V61H20A6.2,5.8 0 0 0 26.2,55.2V17.3A6.2,5.8 0 0 0 20,11.5Z"/></g>
<g transform="translate(393.2,191.5)"><path d="M0,0H26.7V11.5H12.1V30.3H24V41.7H12.1V61H26.7V72.5H0Z"/></g>
<g transform="translate(428.9,191.5)"><path d="M0,14.60 A18,15.8 0 0 1 36,14.60 V26.2 H23.90 V16.90 A6.1,6 0 0 0 12.1,16.90 V55.60 A6.1,6 0 0 0 23.90,55.60 V46.2 H36 V57.90 A18,15.8 0 0 1 0,57.90 Z"/></g>
<g transform="translate(473,191.5)"><path d="M0,0H26.7V11.5H12.1V30.3H24V41.7H12.1V61H26.7V72.5H0Z"/></g>
<g transform="translate(506.9,191.5)"><path fill="none" stroke="#0b0b0b" stroke-width="12.1" d="M30.75,22.6 V14.60 A12.35,9.75 0 0 0 6.05,14.60 V22.5 C6.05,34 30.75,38 30.75,50 V57.90 A12.35,9.75 0 0 1 6.05,57.90 V48.6"/></g>
<g transform="translate(550.4,191.5)"><path fill="none" stroke="#0b0b0b" stroke-width="12.1" d="M30.75,22.6 V14.60 A12.35,9.75 0 0 0 6.05,14.60 V22.5 C6.05,34 30.75,38 30.75,50 V57.90 A12.35,9.75 0 0 1 6.05,57.90 V48.6"/></g>
<g transform="translate(594.6,191.5)"><rect x="0" y="0" width="11.9" height="72.5"/></g>
<g transform="translate(634.2,191.5)"><path d="M0,14.60 A18.65,15.8 0 0 1 37.3,14.60 V21.5 H25.20 V17.10 A6.75,6.2 0 0 0 12.1,17.10 V55.40 A6.75,6.2 0 0 0 25.20,55.40 V42.5 H19.3 V33 H37.3 V57.90 A18.65,15.8 0 0 1 0,57.90 Z"/></g>
<g transform="translate(680.2,191.5)"><rect x="0" y="0" width="11.9" height="72.5"/></g>
<g transform="translate(699.3,191.5)"><path fill-rule="evenodd" d="M0,14.60 A18.6,15.8 0 0 1 37.2,14.60 V57.90 A18.6,15.8 0 0 1 0,57.90 Z M12.1,17.10 V55.40 A6.75,6.2 0 0 0 25.10,55.40 V17.10 A6.75,6.2 0 0 0 12.1,17.10 Z"/></g>
<g transform="translate(745.5,191.5)"><path fill-rule="evenodd" d="M0,0H18A16.5,15 0 0 1 34.5,15V28A15,14 0 0 1 27,40.5L35.2,72.5H23L15.5,43.5H12.1V72.5H0Z M12.1,11.3V32.5H17A5.6,5.6 0 0 0 22.6,26.9V16.9A5.6,5.6 0 0 0 17,11.3Z"/></g>
<g transform="translate(787.9,191.5)"><path d="M0,0H14L24.50,40.00V0H36.60V72.5H22.60L12.10,32.50V72.5H0Z"/></g>
<g transform="translate(831.7,191.5)"><path fill-rule="evenodd" d="M0,72.5L15.6,0H26.6L40.2,72.5H27.8L25.6,56.5H14.8L12.4,72.5Z M17.2,45H24.4L20.9,13.5Z"/></g>
<g transform="translate(879.2,191.5)"><path d="M0,0H12.1V61H25.6V72.5H0Z"/></g>
<g transform="translate(912.7,191.5)"><rect x="0" y="0" width="11.9" height="72.5"/></g>
<g transform="translate(934,191.5)"><path d="M0,0H26.7V11.5H12.1V30.3H24V41.7H12.1V61H26.7V72.5H0Z"/></g>
<g transform="translate(970,191.5)"><path fill-rule="evenodd" d="M0,0H18A16.5,15 0 0 1 34.5,15V28A15,14 0 0 1 27,40.5L35.2,72.5H23L15.5,43.5H12.1V72.5H0Z M12.1,11.3V32.5H17A5.6,5.6 0 0 0 22.6,26.9V16.9A5.6,5.6 0 0 0 17,11.3Z"/></g>
<g transform="translate(1012.2,191.5)"><rect x="0" y="0" width="11.9" height="72.5"/></g>
</g>
</svg></body></html>
